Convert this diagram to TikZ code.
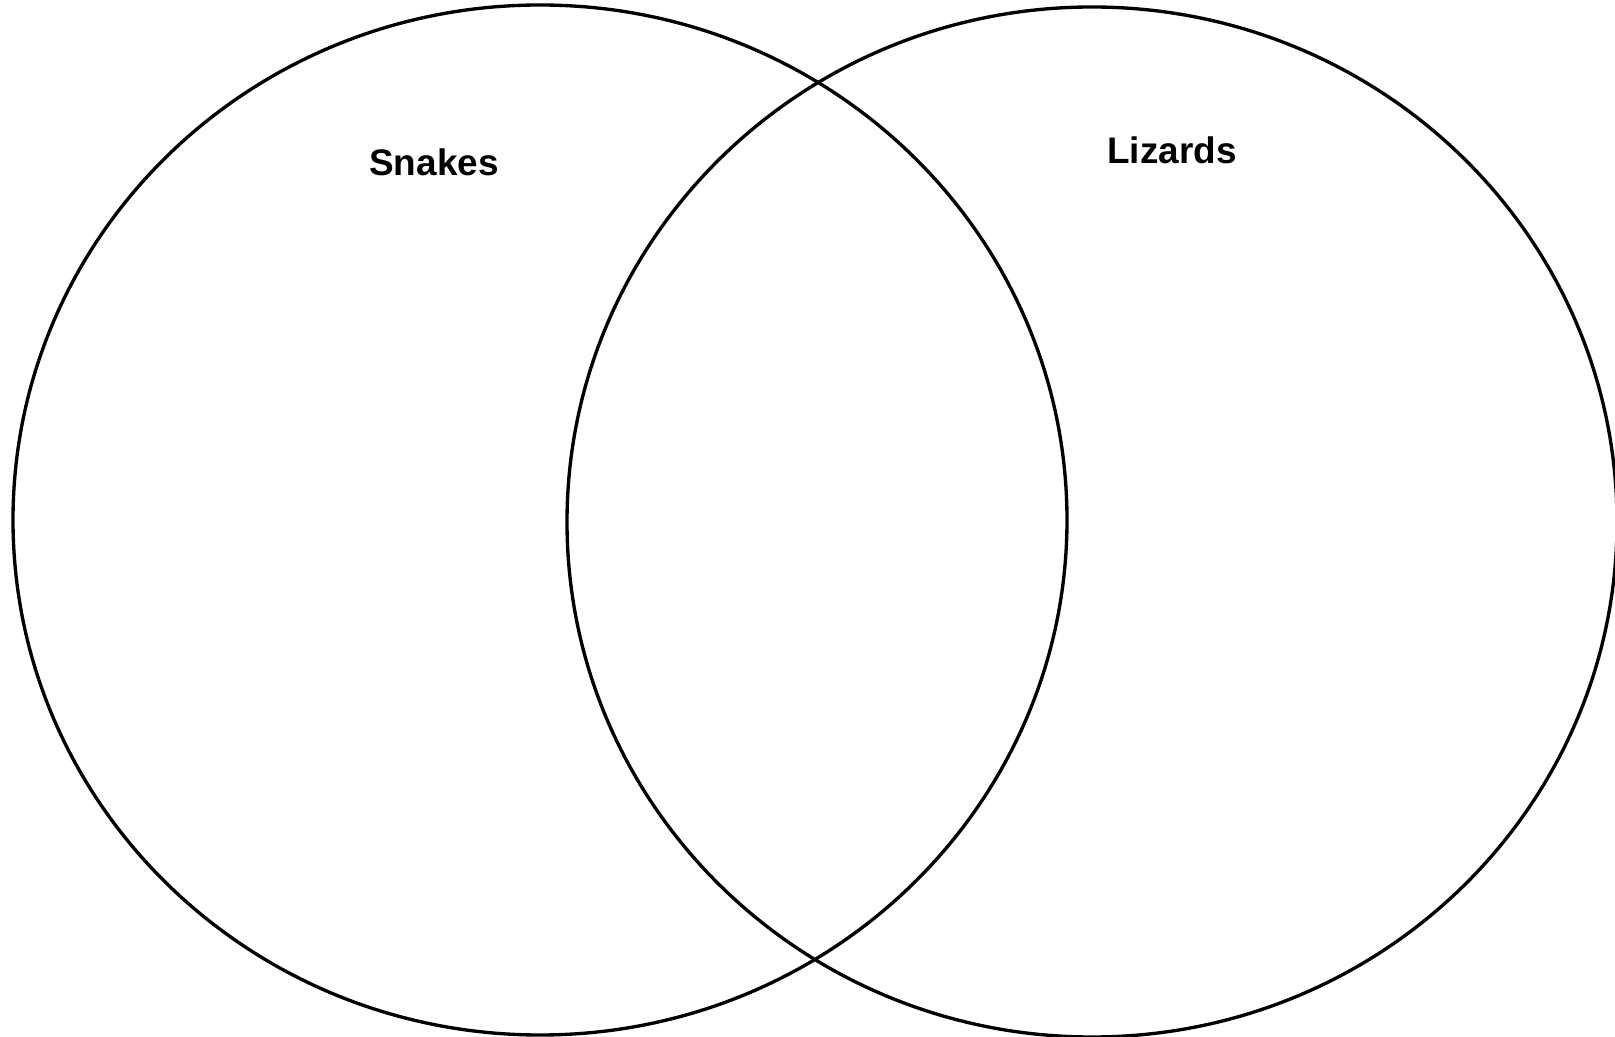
\documentclass[tikz,border=0pt]{standalone}
\usepackage{fontspec}
\setmainfont{Liberation Sans}

\begin{document}
\begin{tikzpicture}[x=0.01cm, y=-0.01cm,
    setline/.style={draw=black, line width=0.95pt},
    setlabel/.style={font=\fontsize{10.5}{12}\selectfont\bfseries, inner sep=0pt}]
  \useasboundingbox (0,0) rectangle (1615,1037);

	\draw[setline] (540,520) ellipse [x radius=527, y radius=515];
	\draw[setline] (1092,522) ellipse [x radius=525, y radius=515];

	\node[setlabel] (snakes) at (434,162) {Snakes};
	\node[setlabel] (lizards) at (1172,150) {Lizards};
\end{tikzpicture}
\end{document}
